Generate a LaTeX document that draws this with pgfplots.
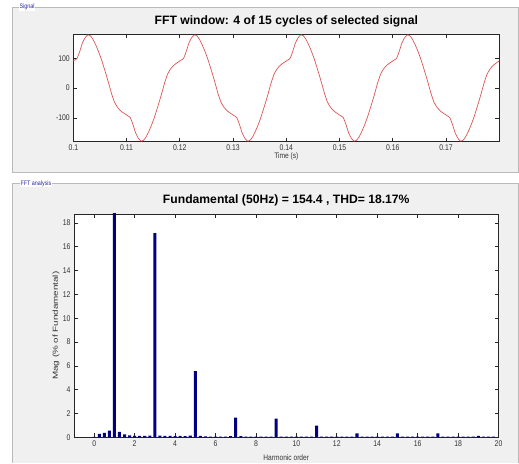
\documentclass[border=0pt]{standalone}
\usepackage{fontspec}
\setmainfont{Liberation Sans}[FakeStretch=0.83]
\newfontfamily\rotfont{Liberation Sans}[FakeStretch=1.35]
\newfontfamily\titlefont{Liberation Sans}
\usepackage{pgfplots}
\pgfplotsset{compat=1.18}
\definecolor{panel}{RGB}{240,240,240}
\definecolor{bord}{RGB}{185,185,185}
\definecolor{navy}{RGB}{0,0,128}
\definecolor{sig}{RGB}{220,85,85}
\definecolor{lbl}{RGB}{40,40,170}
\begin{document}
\begin{tikzpicture}
\fill[white] (0,0) rectangle (519bp,463bp);
% top panel
\fill[panel] (12bp,290.5bp) rectangle (518bp,456bp);
\draw[bord, line width=0.8bp] (12bp,290.5bp) rectangle (518bp,456bp);
\node[font=\fontsize{6.5}{7}\selectfont, text=lbl, fill=white, inner sep=0.8bp] at (27bp,456bp) {Signal};
% bottom panel
\fill[panel] (12bp,0bp) rectangle (518bp,279.5bp);
\draw[bord, line width=0.8bp] (12bp,0bp) -- (12bp,279.5bp) -- (518bp,279.5bp) -- (518bp,0bp);
\node[font=\fontsize{6.5}{7}\selectfont, text=lbl, fill=white, inner sep=0.8bp] at (36bp,279.5bp) {FFT analysis};

\begin{axis}[
  at={(73.3bp,321.3bp)}, anchor=south west, scale only axis,
  width=426bp, height=107.4bp,
  xmin=0.1, xmax=0.18, ymin=-180, ymax=180,
  xtick={0.1,0.11,0.12,0.13,0.14,0.15,0.16,0.17},
  xticklabels={0.1,0.11,0.12,0.13,0.14,0.15,0.16,0.17},
  ytick={-100,0,100}, yticklabels={-100,0,100},
  tick align=inside, major tick length=4bp,
  axis background/.style={fill=white},
  axis line style={line width=0.8bp, black!85},
  every tick/.style={black!85, line width=0.6bp},
  tick label style={font=\fontsize{8.3}{9}\selectfont, text=black!80},
  title={\titlefont\bfseries FFT window: 4 of 15 cycles of selected signal},
  every axis title/.style={font=\fontsize{12.2}{13}\selectfont, at={(axis description cs:0.5,1.117)}, anchor=center},
  xlabel={Time (s)},
  xlabel style={font=\fontsize{8}{9}\selectfont, text=black!80, at={(axis description cs:0.5,-0.133)}, anchor=center},
]
\addplot[sig, line width=0.7bp, smooth, tension=0.3] table[row sep=\\] {
x y\\
0.0997 87\\ 0.1002 93\\ 0.1007 99\\ 0.1012 122\\ 0.1017 150\\ 0.1022 168\\
0.1027 178\\ 0.1032 175\\ 0.1037 163\\ 0.1042 145\\ 0.1047 124\\ 0.1052 100\\ 0.1057 72\\ 0.1062 43\\ 0.1067 12\\ 0.1072 -20\\
0.1077 -46\\ 0.1082 -62\\ 0.1087 -73\\ 0.1092 -81\\ 0.1097 -87\\ 0.1102 -93\\ 0.1107 -99\\ 0.1112 -122\\ 0.1117 -150\\ 0.1122 -168\\
0.1127 -178\\ 0.1132 -175\\ 0.1137 -163\\ 0.1142 -145\\ 0.1147 -124\\ 0.1152 -100\\ 0.1157 -72\\ 0.1162 -43\\ 0.1167 -12\\ 0.1172 20\\
0.1177 46\\ 0.1182 62\\ 0.1187 73\\ 0.1192 81\\ 0.1197 87\\ 0.1202 93\\ 0.1207 99\\ 0.1212 122\\ 0.1217 150\\ 0.1222 168\\
0.1227 178\\ 0.1232 175\\ 0.1237 163\\ 0.1242 145\\ 0.1247 124\\ 0.1252 100\\ 0.1257 72\\ 0.1262 43\\ 0.1267 12\\ 0.1272 -20\\
0.1277 -46\\ 0.1282 -62\\ 0.1287 -73\\ 0.1292 -81\\ 0.1297 -87\\ 0.1302 -93\\ 0.1307 -99\\ 0.1312 -122\\ 0.1317 -150\\ 0.1322 -168\\
0.1327 -178\\ 0.1332 -175\\ 0.1337 -163\\ 0.1342 -145\\ 0.1347 -124\\ 0.1352 -100\\ 0.1357 -72\\ 0.1362 -43\\ 0.1367 -12\\ 0.1372 20\\
0.1377 46\\ 0.1382 62\\ 0.1387 73\\ 0.1392 81\\ 0.1397 87\\ 0.1402 93\\ 0.1407 99\\ 0.1412 122\\ 0.1417 150\\ 0.1422 168\\
0.1427 178\\ 0.1432 175\\ 0.1437 163\\ 0.1442 145\\ 0.1447 124\\ 0.1452 100\\ 0.1457 72\\ 0.1462 43\\ 0.1467 12\\ 0.1472 -20\\
0.1477 -46\\ 0.1482 -62\\ 0.1487 -73\\ 0.1492 -81\\ 0.1497 -87\\ 0.1502 -93\\ 0.1507 -99\\ 0.1512 -122\\ 0.1517 -150\\ 0.1522 -168\\
0.1527 -178\\ 0.1532 -175\\ 0.1537 -163\\ 0.1542 -145\\ 0.1547 -124\\ 0.1552 -100\\ 0.1557 -72\\ 0.1562 -43\\ 0.1567 -12\\ 0.1572 20\\
0.1577 46\\ 0.1582 62\\ 0.1587 73\\ 0.1592 81\\ 0.1597 87\\ 0.1602 93\\ 0.1607 99\\ 0.1612 122\\ 0.1617 150\\ 0.1622 168\\
0.1627 178\\ 0.1632 175\\ 0.1637 163\\ 0.1642 145\\ 0.1647 124\\ 0.1652 100\\ 0.1657 72\\ 0.1662 43\\ 0.1667 12\\ 0.1672 -20\\
0.1677 -46\\ 0.1682 -62\\ 0.1687 -73\\ 0.1692 -81\\ 0.1697 -87\\ 0.1702 -93\\ 0.1707 -99\\ 0.1712 -122\\ 0.1717 -150\\ 0.1722 -168\\
0.1727 -178\\ 0.1732 -175\\ 0.1737 -163\\ 0.1742 -145\\ 0.1747 -124\\ 0.1752 -100\\ 0.1757 -72\\ 0.1762 -43\\ 0.1767 -12\\ 0.1772 20\\
0.1777 46\\ 0.1782 62\\ 0.1787 73\\ 0.1792 81\\ 0.1797 87\\ 0.1802 93\\
};
\end{axis}

\begin{axis}[
  at={(74bp,25.7bp)}, anchor=south west, scale only axis,
  width=424.5bp, height=223.3bp,
  xmin=-1, xmax=20, ymin=0, ymax=18.75,
  xtick={0,2,4,6,8,10,12,14,16,18,20},
  ytick={0,2,4,6,8,10,12,14,16,18},
  /pgf/number format/assume math mode=true,
  tick align=inside, major tick length=4bp,
  axis background/.style={fill=white},
  axis line style={line width=0.8bp, black!85},
  every tick/.style={black!85, line width=0.6bp},
  tick label style={font=\fontsize{8.3}{9}\selectfont, text=black!80},
  title={\titlefont\bfseries Fundamental (50Hz) = 154.4 , THD= 18.17\%},
  every axis title/.style={font=\fontsize{12.2}{13}\selectfont, at={(axis description cs:0.5,1.0627)}, anchor=center},
  xlabel={Harmonic order},
  xlabel style={font=\fontsize{8}{9}\selectfont, text=black!80, at={(axis description cs:0.5,-0.0896)}, anchor=center},
  ylabel={Mag (\% of Fundamental)},
  ylabel style={font=\rotfont\fontsize{7.3}{8}\selectfont, text=black!80, at={(axis description cs:-0.0424,0.5)}, anchor=center},
]
\addplot[ybar, bar width=0.15, fill=navy, draw=none] table[row sep=\\] {
x y\\
0 0.04\\ 0.25 0.28\\ 0.5 0.38\\ 0.75 0.55\\ 1 100\\ 1.25 0.45\\ 1.5 0.25\\ 1.75 0.17\\
2 0.12\\ 2.25 0.11\\ 2.5 0.11\\ 2.75 0.13\\ 3 17.15\\ 3.25 0.15\\ 3.5 0.12\\ 3.75 0.11\\
4 0.1\\ 4.25 0.11\\ 4.5 0.1\\ 4.75 0.13\\ 5 5.55\\ 5.25 0.12\\ 5.5 0.07\\ 5.75 0.06\\
6 0.06\\ 6.25 0.06\\ 6.5 0.06\\ 6.75 0.09\\ 7 1.65\\ 7.25 0.09\\ 7.5 0.06\\ 7.75 0.06\\
8 0.06\\ 8.25 0.06\\ 8.5 0.06\\ 8.75 0.06\\ 9 1.57\\ 9.25 0.06\\ 9.5 0.06\\ 9.75 0.06\\
10 0.06\\ 10.25 0.06\\ 10.5 0.06\\ 10.75 0.06\\ 11 0.98\\ 11.25 0.06\\ 11.5 0.06\\ 11.75 0.06\\
12 0.06\\ 12.25 0.06\\ 12.5 0.06\\ 12.75 0.06\\ 13 0.33\\ 13.25 0.06\\ 13.5 0.06\\ 13.75 0.06\\
14 0.06\\ 14.25 0.06\\ 14.5 0.06\\ 14.75 0.06\\ 15 0.33\\ 15.25 0.06\\ 15.5 0.06\\ 15.75 0.06\\
16 0.06\\ 16.25 0.06\\ 16.5 0.06\\ 16.75 0.06\\ 17 0.33\\ 17.25 0.06\\ 17.5 0.06\\ 17.75 0.06\\
18 0.06\\ 18.25 0.06\\ 18.5 0.06\\ 18.75 0.06\\ 19 0.12\\ 19.25 0.06\\ 19.5 0.06\\ 19.75 0.06\\
};
\end{axis}
\end{tikzpicture}
\end{document}
